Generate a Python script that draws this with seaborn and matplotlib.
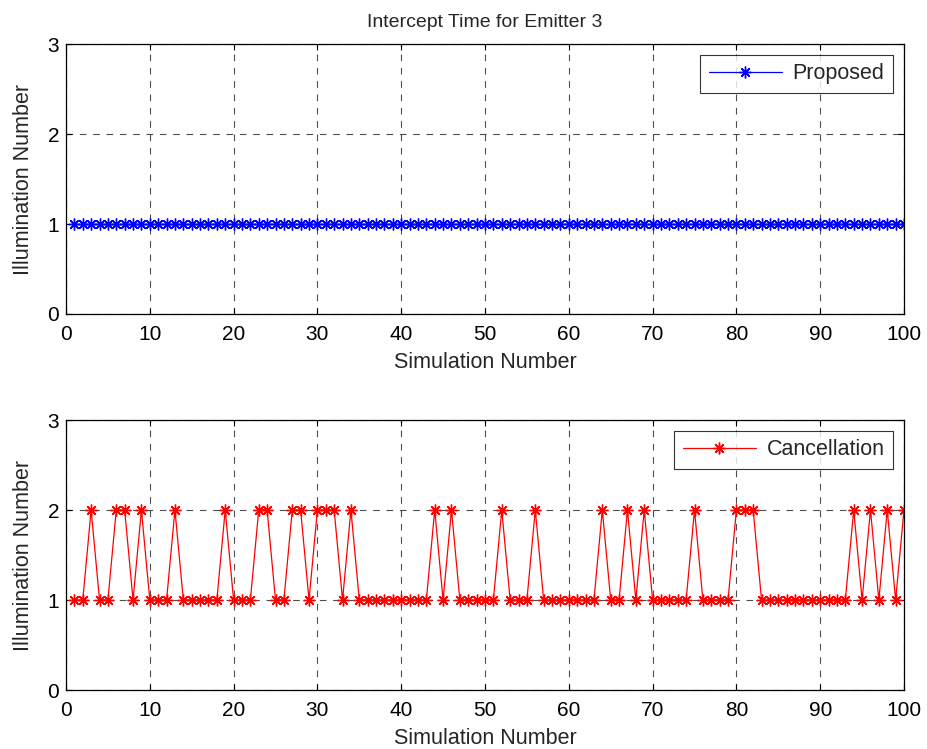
import numpy as np
import pandas as pd
import matplotlib
matplotlib.use("Agg")
import matplotlib.pyplot as plt
import seaborn as sns

sim = list(range(1, 101))
proposed = [1] * 100
peaks = [3, 6, 7, 9, 13, 19, 23, 24, 27, 28, 30, 31, 32, 34, 44, 46, 52, 56,
         64, 67, 69, 75, 80, 81, 82, 94, 96, 98, 100]
cancellation = [2 if s in peaks else 1 for s in sim]
xticks = list(range(0, 101, 10))
yticks = [0, 1, 2, 3]

sns.set_theme(style="white")
plt.rcParams['font.family'] = ['Liberation Sans', 'DejaVu Sans']

fig = plt.figure(figsize=(9.27, 7.49), dpi=100)
W, H = 927, 749
ax1 = fig.add_axes([66 / W, 1 - 314 / H, (904 - 66) / W, (314 - 44) / H])
ax2 = fig.add_axes([66 / W, 1 - 690 / H, (904 - 66) / W, (690 - 420) / H])

df1 = pd.DataFrame({"x": sim, "y": proposed})
df2 = pd.DataFrame({"x": sim, "y": cancellation})

ast = (8, 2, 0)
sns.lineplot(data=df1, x="x", y="y", ax=ax1, color="blue", lw=0.9,
             marker=ast, markersize=8.5, markeredgewidth=1.0, markeredgecolor="blue",
             label="Proposed")
sns.lineplot(data=df2, x="x", y="y", ax=ax2, color="red", lw=0.9,
             marker=ast, markersize=8.5, markeredgewidth=1.0, markeredgecolor="red",
             label="Cancellation")

for ax in (ax1, ax2):
    ax.set_xlim(0, 100)
    ax.set_ylim(0, 3)
    ax.set_xticks(xticks)
    ax.set_yticks(yticks)
    ax.grid(True, color="#222222", linestyle=(0, (6, 6)), linewidth=0.8, alpha=0.8)
    ax.set_xlabel("Simulation Number", fontsize=15.5, labelpad=6)
    ax.set_ylabel("Illumination Number", fontsize=15.5)
    ax.yaxis.set_label_coords(-0.038, 0.5)
    ax.tick_params(direction="in", length=4, width=0.8, labelsize=15, pad=8,
                   top=True, right=True, bottom=True, left=True, colors="black")
    ax.tick_params(axis="y", pad=5)
    for sp in ax.spines.values():
        sp.set_color("black")
        sp.set_linewidth(0.9)
    leg = ax.legend(loc="upper right", fontsize=15.5, frameon=True, fancybox=False,
                    handlelength=3.4, borderpad=0.4, borderaxespad=0.5,
                    handletextpad=0.5)
    leg.get_frame().set_edgecolor("black")
    leg.get_frame().set_linewidth(0.8)

ax1.set_title("Intercept Time for Emitter 3", fontsize=14, pad=12)

fig.savefig("out.png", dpi=100)
